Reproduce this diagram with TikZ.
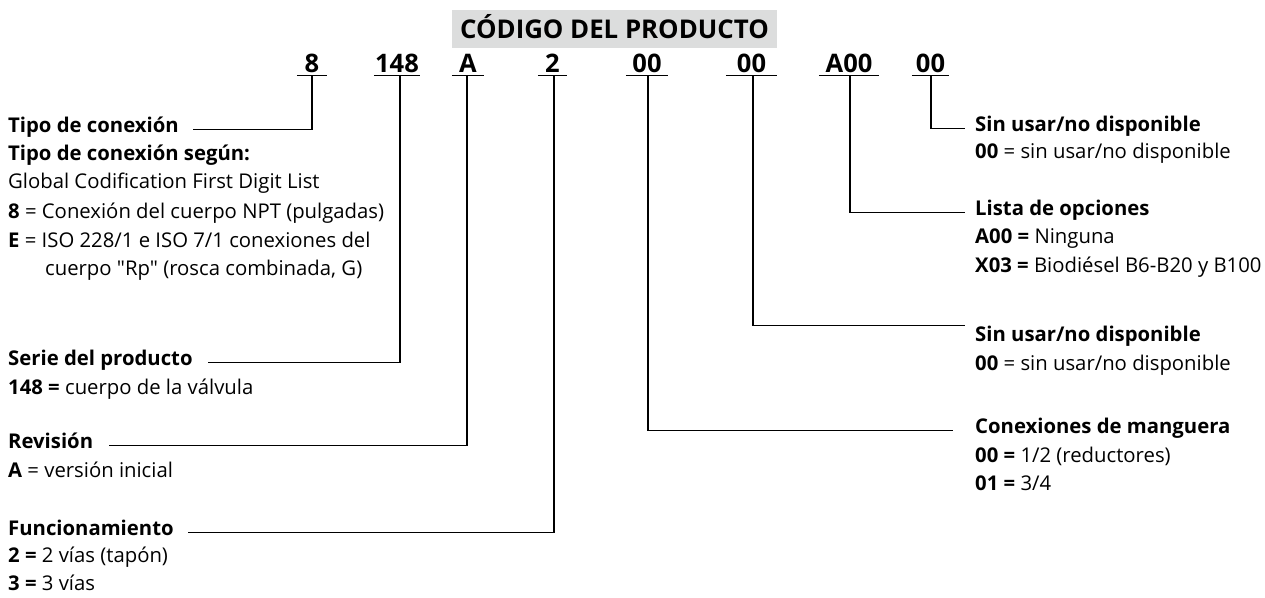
\documentclass[tikz,border=0pt]{standalone}
\usepackage{fontspec}
\setmainfont{Open Sans}[Ligatures=TeXOff]
\definecolor{titlegray}{HTML}{DCDDDD}
\begin{document}
\begin{tikzpicture}[x=1pt,y=-1pt,
  lbl/.style={anchor=base west, inner sep=0pt, font=\fontsize{20.3}{24}\selectfont},
  head/.style={anchor=base west, inner sep=0pt, font=\fontsize{20.3}{24}\selectfont\bfseries},
  code/.style={anchor=base, inner xsep=0pt, inner ysep=0pt, text depth=3pt, font=\fontsize{25.5}{30}\selectfont\bfseries},
  link/.style={line width=1.2pt, black}]
\useasboundingbox (0,0) rectangle (1265,597);

% title
\node[fill=titlegray, minimum width=325pt, minimum height=38pt, text height=18.5pt, text depth=0pt, inner sep=0pt,
      font=\fontsize{25.8}{30}\selectfont\bfseries] (title) at (614.5,29) {CÓDIGO DEL PRODUCTO};

% code row
\node[code, minimum width=30pt] (c1) at (312,72) {8};
\node[code, minimum width=46pt] (c2) at (397,72) {148};
\node[code, minimum width=32pt] (c3) at (468,72) {A};
\node[code, minimum width=29pt] (c4) at (552.5,72) {2};
\node[code, minimum width=42pt] (c5) at (647,72) {00};
\node[code, minimum width=51pt] (c6) at (751.5,72) {00};
\node[code, minimum width=60pt] (c7) at (849,72) {A00};
\node[code, minimum width=37pt] (c8) at (930.5,72) {00};
\foreach \c in {c1,c2,c3,c4,c5,c6,c7,c8}
  \draw[link] (\c.south west) -- (\c.south east);

% left blocks
\node[head] (h1) at (8,132) {Tipo de conexión};
\node[head] (h1a) at (8,160) {Tipo de conexión según:};
\node[lbl] (h1b) at (8,188) {Global Codification First Digit List};
\node[lbl] (h1c) at (8,218) {\textbf{8} = Conexión del cuerpo NPT (pulgadas)};
\node[lbl] (h1d) at (8,247) {\textbf{E} = ISO 228/1 e ISO 7/1 conexiones del};
\node[lbl] (h1e) at (45,275) {cuerpo "Rp" (rosca combinada, G)};

\node[head] (h2) at (8,365) {Serie del producto};
\node[lbl] (h2a) at (8,394) {\textbf{148 =} cuerpo de la válvula};

\node[head] (h3) at (8,448) {Revisión};
\node[lbl] (h3a) at (8,477) {\textbf{A} = versión inicial};

\node[head] (h4) at (8,535) {Funcionamiento};
\node[lbl] (h4a) at (8,562) {\textbf{2 =} 2 vías (tapón)};
\node[lbl] (h4b) at (8,590) {\textbf{3 =} 3 vías};

% right blocks
\node[head] (h8) at (975,131) {Sin usar/no disponible};
\node[lbl] (h8a) at (975,158) {\textbf{00} = sin usar/no disponible};

\node[head] (h7) at (975,215) {Lista de opciones};
\node[lbl] (h7a) at (975,243) {\textbf{A00 =} Ninguna};
\node[lbl] (h7b) at (975,272) {\textbf{X03 =} Biodiésel B6-B20 y B100};

\node[head] (h6) at (975,341) {Sin usar/no disponible};
\node[lbl] (h6a) at (975,370) {\textbf{00} = sin usar/no disponible};

\node[head] (h5) at (975,433) {Conexiones de manguera};
\node[lbl] (h5a) at (975,462) {\textbf{00 =} 1/2 (reductores)};
\node[lbl] (h5b) at (975,490) {\textbf{01 =} 3/4};

% connectors
\draw[link] (c1.south) |- ([xshift=14pt]h1.mid east);
\draw[link] ([xshift=3pt]c2.south) |- ([xshift=15pt]h2.mid east);
\draw[link] ([xshift=-1pt]c3.south) |- ([xshift=16pt]h3.mid east);
\draw[link] ([xshift=1.5pt]c4.south) |- ([xshift=14pt]h4.mid east);
\draw[link] ([xshift=1pt]c5.south) |- ([xshift=-22pt]h5.mid west);
\draw[link] ([xshift=1.5pt]c6.south) |- ([xshift=-10pt,yshift=13pt]h6.mid west);
\draw[link] ([xshift=1pt]c7.south) |- ([xshift=-10pt]h7.mid west);
\draw[link] ([xshift=0.5pt]c8.south) |- ([xshift=-10pt]h8.mid west);
\end{tikzpicture}
\end{document}
